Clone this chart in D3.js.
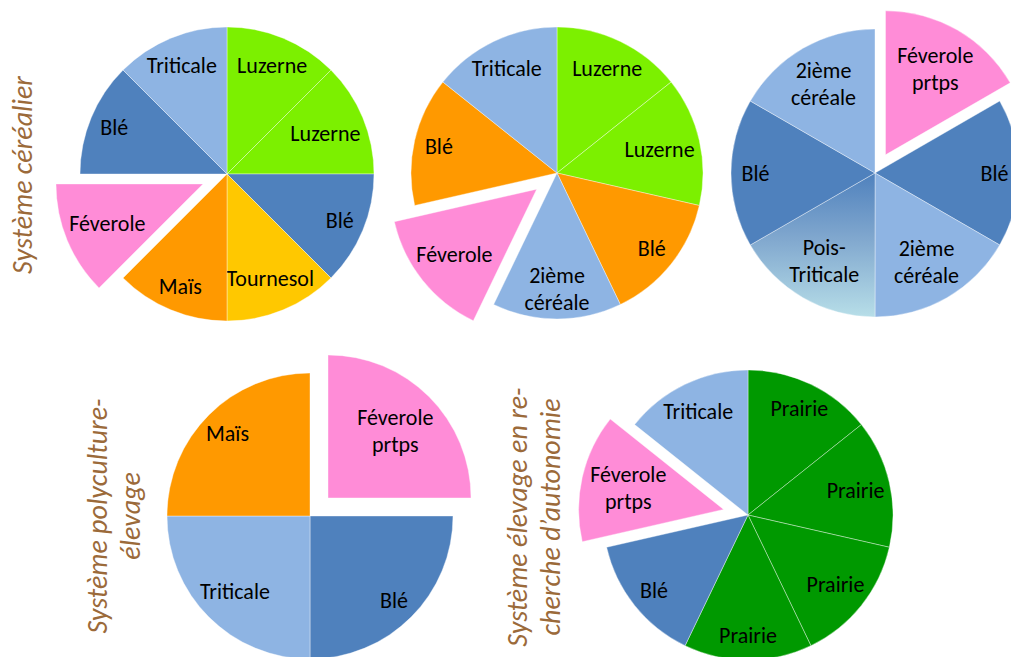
<!DOCTYPE html>
<html><head><meta charset="utf-8">
<script src="https://cdn.jsdelivr.net/npm/d3@7"></script>
<style>html,body{margin:0;padding:0;background:#fff;overflow:hidden}</style>
</head><body>
<svg id="c" width="1011" height="657"></svg>
<script>
// ---------- data ----------
const cerealierACrops  = ["Luzerne","Luzerne","Blé","Tournesol","Maïs","Féverole","Blé","Triticale"];
const cerealierAShares = [1,1,1,1,1,1,1,1];
const cerealierBCrops  = ["Luzerne","Luzerne","Blé","2ième céréale","Féverole","Blé","Triticale"];
const cerealierBShares = [1,1,1,1,1,1,1];
const cerealierCCrops  = ["Féverole prtps","Blé","2ième céréale","Pois-Triticale","Blé","2ième céréale"];
const cerealierCShares = [1,1,1,1,1,1];
const polycultureCrops  = ["Féverole prtps","Blé","Triticale","Maïs"];
const polycultureShares = [1,1,1,1];
const autonomieCrops  = ["Prairie","Prairie","Prairie","Prairie","Blé","Féverole prtps","Triticale"];
const autonomieShares = [1,1,1,1,1,1,1];
const titleCerealier   = ["Système céréalier"];
const titlePolyculture = ["Système polyculture-","élevage"];
const titleAutonomie   = ["Système élevage en re-","cherche d’autonomie"];

// ---------- styles ----------
const C = {lime:"#7CF000", blue:"#4F81BD", light:"#8EB4E3", yellow:"#FFC800",
           orange:"#FF9900", pink:"#FF8CD7", green:"#009900", grad:"url(#gradPT)"};
const colorsA = [C.lime,C.lime,C.blue,C.yellow,C.orange,C.pink,C.blue,C.light];
const colorsB = [C.lime,C.lime,C.orange,C.light,C.pink,C.orange,C.light];
const colorsC = [C.pink,C.blue,C.light,C.grad,C.blue,C.light];
const colorsD = [C.pink,C.blue,C.light,C.orange];
const colorsE = [C.green,C.green,C.green,C.green,C.blue,C.pink,C.light];

const charts = [
  {crops:cerealierACrops, shares:cerealierAShares, colors:colorsA, cx:227, cy:174, r:147, explode:26, title:titleCerealier, tx:22, ty:175},
  {crops:cerealierBCrops, shares:cerealierBShares, colors:colorsB, cx:557, cy:173, r:146, explode:26},
  {crops:cerealierCCrops, shares:cerealierCShares, colors:colorsC, cx:875, cy:173, r:144, explode:21},
  {crops:polycultureCrops, shares:polycultureShares, colors:colorsD, cx:310, cy:516, r:143, explode:25.5, title:titlePolyculture, tx:114, ty:516},
  {crops:autonomieCrops, shares:autonomieShares, colors:colorsE, cx:748, cy:515, r:145, explode:25, title:titleAutonomie, tx:534, ty:517}
];

const FONT = "Carlito, Calibri, Lato, sans-serif";
const LABEL_SIZE = 22, LINE_H = 27, TITLE_SIZE = 28, TITLE_LINE_H = 33;

const svg = d3.select("#c");
const defs = svg.append("defs");

const meas = svg.append("text").attr("font-family",FONT).attr("font-size",LABEL_SIZE).attr("visibility","hidden");
function textW(s){ meas.text(s); return meas.node().getComputedTextLength(); }

function splitLines(name){
  if (name.indexOf(" ")>=0) return name.split(" ");
  if (name.indexOf("-")>0) { const i=name.indexOf("-"); return [name.slice(0,i+1), name.slice(i+1)]; }
  return [name];
}

charts.forEach((ch, ci) => {
  const pie = d3.pie().value(d => d).sort(null).startAngle(0).endAngle(2*Math.PI);
  const arcs = pie(ch.shares);
  const arc = d3.arc().innerRadius(0).outerRadius(ch.r);
  const g = svg.append("g").attr("transform", `translate(${ch.cx},${ch.cy})`);

  if (ch.colors.includes(C.grad)) {
    const lg = defs.append("linearGradient").attr("id","gradPT")
      .attr("gradientUnits","userSpaceOnUse").attr("x1",0).attr("y1",0).attr("x2",0).attr("y2",ch.r);
    lg.append("stop").attr("offset",0).attr("stop-color","#4F81BD");
    lg.append("stop").attr("offset",0.45).attr("stop-color","#80A7CE");
    lg.append("stop").attr("offset",1).attr("stop-color","#B7DEE8");
  }

  arcs.forEach((a, i) => {
    const name = ch.crops[i];
    const mid = (a.startAngle + a.endAngle)/2;
    const ex = name.startsWith("Féverole") ? ch.explode : 0;
    const ox = Math.sin(mid)*ex, oy = -Math.cos(mid)*ex;
    const sg = g.append("g").attr("transform", `translate(${ox},${oy})`);
    sg.append("path").attr("d", arc(a)).attr("fill", ch.colors[i])
      .attr("stroke","#ffffff").attr("stroke-opacity",0.55).attr("stroke-width",0.7);

    const lines = splitLines(name);
    const halfW = d3.max(lines, l => textW(l))/2 + 2;
    const halfH = (lines.length-1)*LINE_H/2 + 10;
    const dx = Math.sin(mid), dy = -Math.cos(mid);
    let t = 0.83*ch.r;
    const fits = tt => {
      const px = dx*tt, py = dy*tt;
      for (const sx of [-1,1]) for (const sy of [-1,1]) {
        if (Math.hypot(px+sx*halfW, py+sy*halfH) > ch.r - 2) return false;
      }
      return true;
    };
    while (t > 0 && !fits(t)) t -= 0.5;
    const lx = dx*t, ly = dy*t;
    const txt = sg.append("text").attr("font-family",FONT).attr("font-size",LABEL_SIZE)
      .attr("fill","#000").attr("text-anchor","middle");
    lines.forEach((l, k) => {
      txt.append("tspan").attr("x", lx)
        .attr("y", ly + (k - (lines.length-1)/2)*LINE_H).attr("dy","0.35em").text(l);
    });
  });

  if (ch.title) {
    const tt = svg.append("text").attr("transform", `translate(${ch.tx},${ch.ty}) rotate(-90)`)
      .attr("font-family",FONT).attr("font-size",TITLE_SIZE).attr("font-style","italic")
      .attr("fill","#9B6A3A").attr("text-anchor","middle");
    ch.title.forEach((l,k) => {
      tt.append("tspan").attr("x",0).attr("y",(k-(ch.title.length-1)/2)*TITLE_LINE_H).attr("dy","0.35em").text(l);
    });
  }
});
meas.remove();
</script>
</body></html>
